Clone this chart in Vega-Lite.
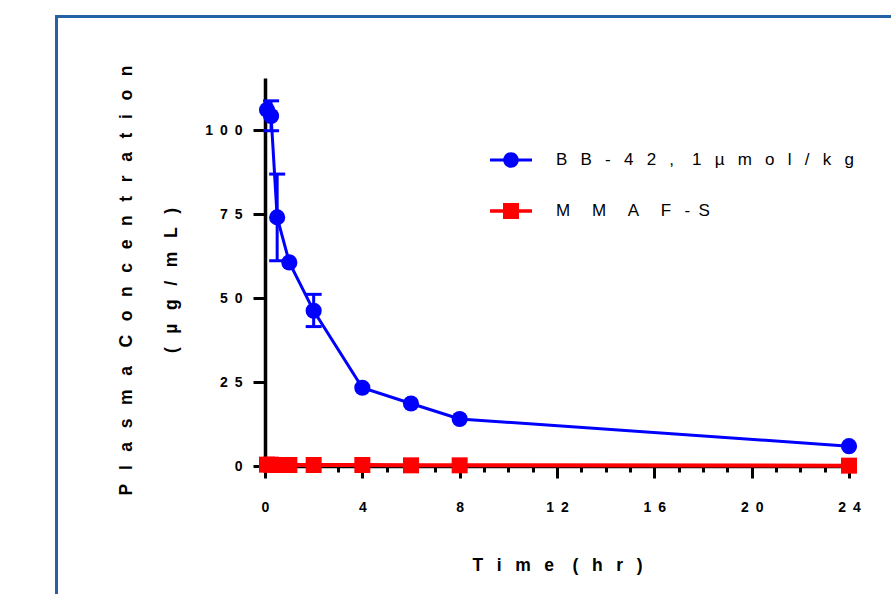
{
  "$schema": "https://vega.github.io/schema/vega-lite/v6.json",
  "width": 584,
  "height": 388,
  "autosize": {"type": "none"},
  "padding": {"left": 265, "top": 78, "right": 42, "bottom": 128},
  "background": "white",
  "data": {
    "values": [
      {"series": "BB-42, 1 µmol/kg", "time": 0.083, "conc": 106.0},
      {"series": "BB-42, 1 µmol/kg", "time": 0.25, "conc": 104.2, "lo": 99.8, "hi": 108.7},
      {"series": "BB-42, 1 µmol/kg", "time": 0.5, "conc": 74.0, "lo": 61.1, "hi": 86.9},
      {"series": "BB-42, 1 µmol/kg", "time": 1, "conc": 60.6},
      {"series": "BB-42, 1 µmol/kg", "time": 2, "conc": 46.2, "lo": 41.5, "hi": 51.1},
      {"series": "BB-42, 1 µmol/kg", "time": 4, "conc": 23.3},
      {"series": "BB-42, 1 µmol/kg", "time": 6, "conc": 18.6},
      {"series": "BB-42, 1 µmol/kg", "time": 8, "conc": 14.0},
      {"series": "BB-42, 1 µmol/kg", "time": 24, "conc": 5.9},
      {"series": "MMAF-S", "time": 0.083, "conc": 0.4},
      {"series": "MMAF-S", "time": 0.25, "conc": 0.4},
      {"series": "MMAF-S", "time": 0.5, "conc": 0.3},
      {"series": "MMAF-S", "time": 1, "conc": 0.3},
      {"series": "MMAF-S", "time": 2, "conc": 0.3},
      {"series": "MMAF-S", "time": 4, "conc": 0.3},
      {"series": "MMAF-S", "time": 6, "conc": 0.2},
      {"series": "MMAF-S", "time": 8, "conc": 0.2},
      {"series": "MMAF-S", "time": 24, "conc": 0.1}
    ]
  },
  "resolve": {"axis": {"x": "independent", "y": "independent"}},
  "layer": [
    {
      "mark": {"type": "rule", "color": "#2462a6", "strokeWidth": 2},
      "encoding": {
        "x": {"datum": -8.568, "type": "quantitative", "scale": {"domain": [0, 24], "nice": false, "zero": false}, "axis": null},
        "y": {"datum": 133.81, "type": "quantitative", "scale": {"domain": [0, 115.5], "nice": false, "zero": false}, "axis": null},
        "y2": {"datum": -38.1}
      }
    },
    {
      "mark": {"type": "rule", "color": "#2462a6", "strokeWidth": 2},
      "encoding": {
        "x": {"datum": -8.6, "type": "quantitative", "scale": {"domain": [0, 24], "nice": false, "zero": false}, "axis": null},
        "x2": {"datum": 25.73},
        "y": {"datum": 133.81, "type": "quantitative", "scale": {"domain": [0, 115.5], "nice": false, "zero": false}, "axis": null}
      }
    },
    {
      "transform": [{"filter": "datum.series !== 'MMAF-S'"}],
      "mark": {"type": "line", "strokeWidth": 3},
      "encoding": {
        "x": {
          "field": "time", "type": "quantitative",
          "scale": {"domain": [0, 24], "nice": false, "zero": false},
          "axis": {
            "orient": "bottom",
            "values": [0,1,2,3,4,5,6,7,8,9,10,11,12,13,14,15,16,17,18,19,20,21,22,23,24],
            "ticks": true,
            "tickSize": {"condition": {"test": "datum.value % 4 === 0", "value": 12}, "value": 6},
            "tickColor": "#000000",
            "tickWidth": 3,
            "labelExpr": "datum.value % 4 ? '' : (length(datum.label) > 1 ? substring(datum.label,0,1) + '\u2002' + substring(datum.label,1,2) : datum.label)",
            "labelOverlap": false,
            "labelFlush": false,
            "labelPadding": 22,
            "title": "T\u2002\u00a0i\u2002\u00a0m\u2002\u00a0e\u2002\u00a0\u00a0(\u2002\u00a0h\u2002\u00a0r\u2002\u00a0)",
            "titleBaseline": "middle",
            "titleY": 99
          }
        },
        "y": {
          "field": "conc", "type": "quantitative",
          "scale": {"domain": [0, 115.5], "nice": false, "zero": false},
          "axis": {
            "orient": "left",
            "values": [0, 25, 50, 75, 100],
            "ticks": true,
            "tickSize": 12,
            "tickColor": "#000000",
            "tickWidth": 3,
            "labelPadding": 11,
            "labelExpr": "length(datum.label) == 3 ? substring(datum.label,0,1) + '\u2002' + substring(datum.label,1,2) + '\u2002' + substring(datum.label,2,3) : (length(datum.label) == 2 ? substring(datum.label,0,1) + '\u2002' + substring(datum.label,1,2) : datum.label)",
            "title": ["P\u2002\u00a0l\u2002\u00a0a\u2002\u00a0s\u2002\u00a0m\u2002\u00a0a\u2002\u00a0\u00a0C\u2002\u00a0o\u2002\u00a0n\u2002\u00a0c\u2002\u00a0e\u2002\u00a0n\u2002\u00a0t\u2002\u00a0r\u2002\u00a0a\u2002\u00a0t\u2002\u00a0i\u2002\u00a0o\u2002\u00a0n", "(\u2002\u00a0\u00b5\u2002\u00a0g\u2002\u00a0/\u2002\u00a0m\u2002\u00a0L\u2002\u00a0)"],
            "titleAngle": -90,
            "titleBaseline": "top",
            "titleAlign": "center",
            "titleX": -148,
            "titleY": 202,
            "titleLineHeight": 45
          }
        },
        "color": {
          "field": "series", "type": "nominal",
          "scale": {"domain": ["BB-42, 1 µmol/kg", "MMAF-S"], "range": ["#0000ff", "#ff0000"]},
          "legend": {
            "orient": "none",
            "legendX": 225,
            "legendY": 61,
            "title": null,
            "padding": 0,
            "rowPadding": 22,
            "labelOffset": 24,
            "labelFont": "Liberation Sans",
            "labelFontSize": 17,
            "labelFontWeight": "normal",
            "labelColor": "black",
            "labelLimit": 0,
            "symbolSize": 1764,
            "labelExpr": "datum.value === 'MMAF-S' ? 'M\u2003\u00a0M\u2003\u00a0A\u2003\u00a0F\u2002\u00a0-\u2002S' : 'B\u2002\u00a0B\u2002\u00a0-\u2002\u00a04\u2002\u00a02\u2002\u00a0,\u2002\u00a0\u00a01\u2002\u00a0\u00b5\u2002\u00a0m\u2002\u00a0o\u2002\u00a0l\u2002\u00a0/\u2002\u00a0k\u2002\u00a0g'",
            "encode": {
              "symbols": {
                "update": {
                  "shape": {"signal": "datum.value === 'MMAF-S' ? 'M-1,-0.08H1V0.08H-1Z M-0.38,-0.38H0.38V0.38H-0.38Z' : 'M-1,-0.07H1V0.07H-1Z M0.37,0A0.37,0.37,0,1,1,-0.37,0A0.37,0.37,0,1,1,0.37,0Z'"},
                  "size": {"value": 1764},
                  "fill": {"signal": "datum.value === 'MMAF-S' ? '#ff0000' : '#0000ff'"},
                  "fillOpacity": {"value": 1},
                  "opacity": {"value": 1},
                  "strokeWidth": {"value": 0}
                }
              }
            }
          }
        }
      }
    },
    {
      "transform": [{"filter": "isValid(datum.hi)"}],
      "mark": {"type": "rule", "color": "#0000ff", "strokeWidth": 3, "opacity": 1},
      "encoding": {
        "x": {"field": "time", "type": "quantitative", "axis": null},
        "y": {"field": "lo", "type": "quantitative", "axis": null},
        "y2": {"field": "hi"}
      }
    },
    {
      "transform": [{"filter": "isValid(datum.hi)"}],
      "mark": {"type": "rule", "color": "#0000ff", "strokeWidth": 3, "opacity": 1, "xOffset": -8, "x2Offset": 8},
      "encoding": {
        "x": {"field": "time", "type": "quantitative", "axis": null},
        "x2": {"field": "time"},
        "y": {"field": "hi", "type": "quantitative", "axis": null}
      }
    },
    {
      "transform": [{"filter": "isValid(datum.hi)"}],
      "mark": {"type": "rule", "color": "#0000ff", "strokeWidth": 3, "opacity": 1, "xOffset": -8, "x2Offset": 8},
      "encoding": {
        "x": {"field": "time", "type": "quantitative", "axis": null},
        "x2": {"field": "time"},
        "y": {"field": "lo", "type": "quantitative", "axis": null}
      }
    },
    {
      "transform": [{"filter": "datum.series !== 'MMAF-S'"}],
      "mark": {"type": "point", "shape": "circle", "filled": true, "opacity": 1, "size": 260},
      "encoding": {
        "x": {"field": "time", "type": "quantitative", "axis": null},
        "y": {"field": "conc", "type": "quantitative", "axis": null},
        "color": {"field": "series", "type": "nominal"}
      }
    },
    {
      "transform": [{"filter": "datum.series === 'MMAF-S'"}],
      "mark": {"type": "line", "strokeWidth": 4},
      "encoding": {
        "x": {"field": "time", "type": "quantitative", "axis": null},
        "y": {"field": "conc", "type": "quantitative", "axis": null},
        "color": {"field": "series", "type": "nominal"}
      }
    },
    {
      "transform": [{"filter": "datum.series === 'MMAF-S'"}],
      "mark": {"type": "point", "shape": "square", "filled": true, "opacity": 1, "size": 256},
      "encoding": {
        "x": {"field": "time", "type": "quantitative", "axis": null},
        "y": {"field": "conc", "type": "quantitative", "axis": null},
        "color": {"field": "series", "type": "nominal"}
      }
    }
  ],
  "config": {
    "view": {"stroke": null},
    "font": "Liberation Sans",
    "axis": {
      "grid": false,
      "domainColor": "black",
      "domainWidth": 3.5,
      "labelFont": "Liberation Sans",
      "labelFontWeight": "bold",
      "labelFontSize": 14,
      "labelColor": "black",
      "titleFont": "Liberation Sans",
      "titleFontWeight": "bold",
      "titleFontSize": 17.5,
      "titleColor": "black"
    }
  }
}
